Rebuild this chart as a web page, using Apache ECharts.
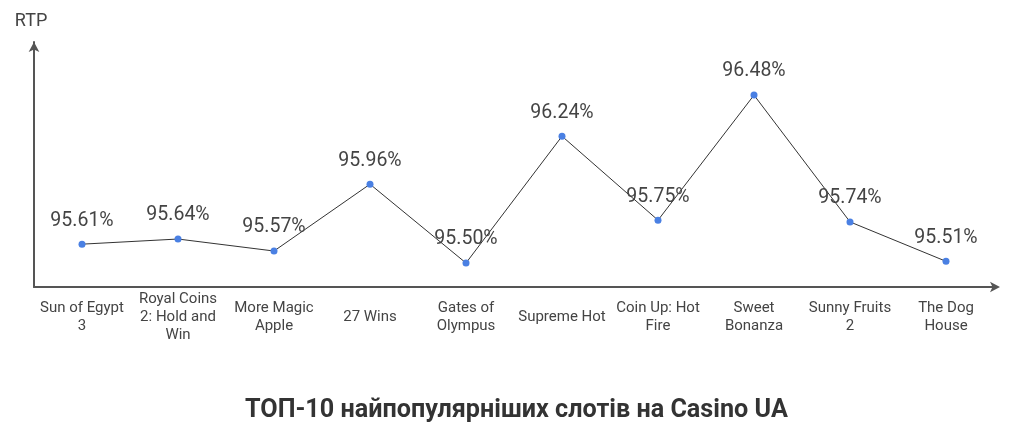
<!DOCTYPE html>
<html>
<head>
<meta charset="utf-8">
<script src="https://cdn.jsdelivr.net/npm/echarts@6/dist/echarts.min.js"></script>
<style>html,body{margin:0;padding:0;background:#fff;}#c{width:1020px;height:431px;}</style>
</head>
<body>
<div id="c"></div>
<script>
const categories = ["Sun of Egypt\n3", "Royal Coins\n2: Hold and\nWin", "More Magic\nApple", "27 Wins", "Gates of\nOlympus", "Supreme Hot", "Coin Up: Hot\nFire", "Sweet\nBonanza", "Sunny Fruits\n2", "The Dog\nHouse"];
const rtpValues = [95.61, 95.64, 95.57, 95.96, 95.50, 96.24, 95.75, 96.48, 95.74, 95.51];
const titleText = "ТОП-10 найпопулярніших слотів на Casino UA";
const yName = "RTP";

const chart = echarts.init(document.getElementById('c'), null, {renderer: 'canvas'});
chart.setOption({
  animation: false,
  backgroundColor: '#fff',
  textStyle: {fontFamily: 'Roboto'},
  title: {
    text: titleText, left: 240, top: 393,
    textStyle: {fontFamily: 'Roboto', fontSize: 25.2, fontWeight: 'bold', color: '#333'}
  },
  grid: {left: 34, right: 26, top: 42, bottom: 144, containLabel: false},
  xAxis: {
    type: 'category', data: categories, boundaryGap: true,
    axisLine: {show: true, lineStyle: {color: '#555', width: 2}, symbol: ['none', 'arrow'], symbolSize: [8, 10], symbolOffset: [0, 6]},
    axisTick: {show: false},
    axisLabel: {interval: 0, color: '#444', fontSize: 15, lineHeight: 18, verticalAlign: 'middle', margin: 30, fontFamily: 'Roboto'}
  },
  yAxis: {
    type: 'value', min: 95.36, max: 96.79,
    name: yName, nameLocation: 'end', nameGap: 12,
    nameTextStyle: {color: '#444', fontSize: 18, fontFamily: 'Roboto', align: 'center', padding: [0, 6, 0, 0]},
    axisLine: {show: true, lineStyle: {color: '#555', width: 2}, symbol: ['none', 'arrow'], symbolSize: [8, 10]},
    axisTick: {show: false}, axisLabel: {show: false}, splitLine: {show: false}
  },
  series: [{
    type: 'line', data: rtpValues,
    symbol: 'circle', symbolSize: 7,
    itemStyle: {color: '#4a80e3'},
    lineStyle: {color: '#333', width: 1},
    label: {show: true, position: 'top', distance: 10, color: '#444', fontSize: 19.5, fontFamily: 'Roboto',
      formatter: p => p.value.toFixed(2) + '%'}
  }]
});
</script>
</body>
</html>
